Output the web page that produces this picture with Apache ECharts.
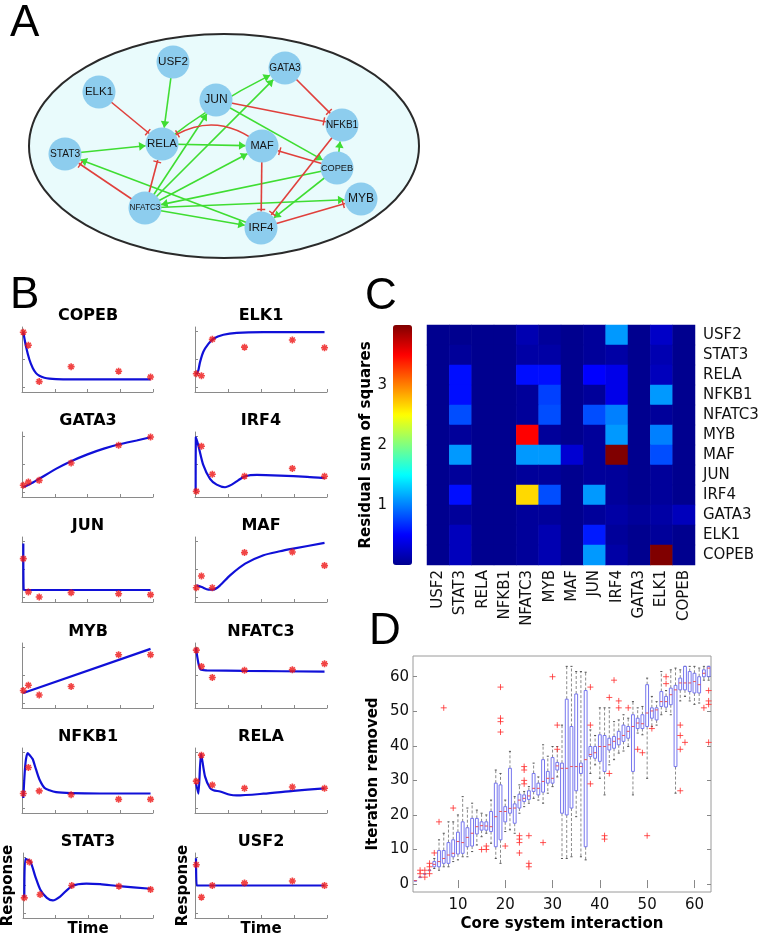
<!DOCTYPE html>
<html><head><meta charset="utf-8">
<script src="https://cdn.jsdelivr.net/npm/echarts@6/dist/echarts.min.js"></script>
<style>html,body{margin:0;padding:0;background:#fff}#c{width:767px;height:940px}</style>
</head><body><div id="c"></div><script>
// ---------- DATA ----------
// Panel A: network
const netNodes = ['USF2','ELK1','JUN','GATA3','RELA','STAT3','MAF','NFKB1','COPEB','MYB','NFATC3','IRF4'];
const netLayout = [[173,62],[99,92],[216,100],[285,68],[162,144],[65,154],[262,146],[342,125],[337,168],[361,199],[145,208],[261,228]];
const activations = [['USF2','RELA'],['STAT3','RELA'],['RELA','MAF'],['IRF4','STAT3'],['NFATC3','IRF4'],['NFATC3','MYB'],['COPEB','NFATC3'],['NFATC3','MAF'],['NFATC3','GATA3'],['NFATC3','JUN'],['RELA','GATA3'],['JUN','COPEB'],['COPEB','NFKB1'],['COPEB','IRF4']];
const inhibitions = [['ELK1','RELA'],['MAF','RELA'],['JUN','NFKB1'],['GATA3','NFKB1'],['COPEB','MAF'],['MAF','IRF4'],['NFKB1','IRF4'],['IRF4','MYB'],['NFATC3','STAT3'],['NFATC3','RELA']];

// Panel B: time courses (fit curves [time, response] and observed responses at sample times)
const sampleTimes = [0.16, 0.78, 2.1, 6, 11.8, 15.7];
const fitCOPEB = [[0.16,0.92],[0.49,0.70],[0.9,0.50],[1.31,0.37],[1.71,0.29],[2.12,0.25],[2.73,0.22],[3.35,0.205],[4.16,0.198],[6,0.195],[15.7,0.195]];
const obsCOPEB = [0.92,0.72,0.16,0.39,0.32,0.23];
const fitELK1 = [[0.2,0.27],[0.4,0.33],[0.61,0.46],[1.01,0.62],[1.62,0.74],[2.23,0.82],[3.44,0.88],[5.06,0.91],[8.3,0.92],[15.7,0.92]];
const obsELK1 = [0.28,0.25,0.81,0.69,0.80,0.68];
const fitGATA3 = [[0.16,0.154],[1,0.2],[2.1,0.28],[4.2,0.436],[6,0.55],[8,0.656],[10,0.744],[12,0.815],[14,0.87],[15.7,0.92]];
const obsGATA3 = [0.18,0.23,0.256,0.523,0.795,0.923];
const fitIRF4 = [[0.08,0.087],[0.1,0.92],[0.41,0.79],[1.01,0.49],[1.82,0.28],[2.63,0.19],[3.64,0.15],[4.45,0.19],[5.27,0.26],[6.08,0.32],[7.5,0.34],[10.3,0.33],[13.6,0.31],[15.7,0.29]];
const obsIRF4 = [0.087,0.78,0.35,0.32,0.44,0.32];
const fitJUN = [[0.16,0.9],[0.2,0.19],[0.4,0.185],[8,0.185],[15.7,0.185]];
const obsJUN = [0.667,0.154,0.077,0.144,0.128,0.113];
const fitMAF = [[0.2,0.256],[0.81,0.23],[1.62,0.19],[2.23,0.19],[3.04,0.256],[4.25,0.41],[6.08,0.59],[8.3,0.72],[10.3,0.78],[11.9,0.82],[15.7,0.91]];
const obsMAF = [0.22,0.40,0.22,0.76,0.77,0.56];
const fitMYB = [[0.16,0.23],[15.7,0.91]];
const obsMYB = [0.27,0.35,0.2,0.33,0.82,0.82];
const fitNFATC3 = [[0.12,0.92],[0.41,0.69],[0.69,0.59],[1.42,0.58],[6.08,0.57],[15.7,0.56]];
const obsNFATC3 = [0.89,0.64,0.47,0.58,0.59,0.68];
const fitNFKB1 = [[0.16,0.23],[0.41,0.75],[0.69,0.92],[1.0,0.88],[1.3,0.83],[1.71,0.67],[2.12,0.52],[2.73,0.39],[3.35,0.35],[4.16,0.32],[6,0.306],[9.5,0.30],[15.7,0.30]];
const obsNFKB1 = [0.30,0.70,0.34,0.28,0.21,0.21];
const fitRELA = [[0.12,0.46],[0.41,0.297],[0.73,0.91],[1.22,0.56],[1.82,0.385],[2.23,0.35],[3.04,0.33],[4.25,0.28],[5.06,0.27],[8.3,0.297],[11.9,0.34],[15.7,0.38]];
const obsRELA = [0.49,0.89,0.43,0.38,0.40,0.38];
const fitSTAT3 = [[0.16,0.31],[0.28,0.91],[0.9,0.87],[1.51,0.64],[2.12,0.44],[2.94,0.31],[3.67,0.27],[4.57,0.33],[6,0.49],[7.8,0.53],[9.5,0.52],[11.8,0.49],[15.7,0.45]];
const obsSTAT3 = [0.31,0.86,0.36,0.50,0.49,0.44];
const fitUSF2 = [[0.12,0.92],[0.2,0.50],[0.4,0.50],[8,0.50],[15.7,0.50]];
const obsUSF2 = [0.82,0.32,0.50,0.54,0.57,0.50];
const panelNames = ['COPEB','ELK1','GATA3','IRF4','JUN','MAF','MYB','NFATC3','NFKB1','RELA','STAT3','USF2'];
const panelFits = [fitCOPEB,fitELK1,fitGATA3,fitIRF4,fitJUN,fitMAF,fitMYB,fitNFATC3,fitNFKB1,fitRELA,fitSTAT3,fitUSF2];
const panelObs = [obsCOPEB,obsELK1,obsGATA3,obsIRF4,obsJUN,obsMAF,obsMYB,obsNFATC3,obsNFKB1,obsRELA,obsSTAT3,obsUSF2];

// Panel C: residual sum of squares (rows top->bottom, columns left->right)
const genes = ['USF2','STAT3','RELA','NFKB1','NFATC3','MYB','MAF','JUN','IRF4','GATA3','ELK1','COPEB'];
const rssMatrix = [
  [0,0,0,0,0.15,0.05,0,0.05,1.1,0,0.25,0],
  [0,0.05,0,0,0.1,0.1,0,0.05,0.1,0,0.15,0],
  [0,0.55,0,0,0.55,0.55,0,0.5,0.4,0,0.2,0],
  [0,0.55,0,0,0.05,0.75,0,0.05,0.4,0,1.1,0],
  [0,0.8,0,0,0.05,0.8,0,0.8,1.0,0,0.05,0],
  [0,0.05,0,0,3.5,0.05,0,0.05,1.1,0,1.0,0],
  [0,1.1,0,0,1.1,1.1,0.3,0.05,4.0,0,0.8,0],
  [0,0.05,0,0,0.05,0.05,0,0.05,0.05,0,0.05,0],
  [0,0.55,0,0,2.65,0.8,0,1.1,0.05,0,0.05,0],
  [0,0.05,0,0,0.05,0.05,0,0.05,0.1,0.05,0.1,0.2],
  [0,0.2,0,0,0.05,0.15,0,0.6,0.05,0,0.05,0],
  [0,0.2,0,0,0.05,0.15,0,1.1,0.1,0,4.0,0]
];
const colorbarLabels = [1,2,3];

// Panel D: box statistics per core system interaction 1..63
const boxLow  = [1,2,3,4,4.5,4,5,5,6.5,7,7.9,7.9,9.4,11.3,13.7,14.7,11.8,7.4,6,15.2,15.7,14.7,20.5,22.4,23.4,24.8,24.3,23.4,26.3,28.2,31,7.4,7.4,7.9,19.5,7.9,7,32,34.5,30.6,25.8,34.5,36,37.9,38.5,39.8,25.8,43.7,43.2,30.6,45.6,46,49,50,49,26.3,53,54.3,53,52,52.4,59,59];
const boxQ1   = [1,2,3,4,5,5,6,6,7.9,8.7,8.9,10.8,11,14.5,15.6,15.6,15.2,10.8,12.8,18,20.5,17.6,22,23.9,24.5,26.8,25.8,26.6,29.2,29.2,33,20.5,20,22,27,32,10.8,36.9,36.4,35.5,32.6,38.8,39.3,40.3,41.3,42.2,32.6,45,45,45.6,48,47.5,51.4,51.2,51.9,34,56.2,56.2,55.7,55.3,55.3,60,60];
const boxMed  = [1,2,3,4,5.7,6.5,7.4,8.4,8.9,12.3,12,13.5,14.7,16.6,16.9,16.8,16.6,19.5,21,21,21.9,22,24.3,24.8,25.5,27.7,27.7,29.7,30.6,30.6,34.2,33.5,33.5,34,34,34,36,37.5,38,39.8,39.8,40.3,41.3,42,43,44.2,45.6,46.6,46.4,49.5,50.1,50.4,52.8,52.8,54.8,56.2,58.2,58.2,58.2,58.6,57.7,61,62.5];
const boxQ3   = [1,2,3,4,6.5,9.7,9.7,12,12.8,15,18,16.3,19,19,18,18,21,29.2,28.7,22.4,33.5,23.2,26,25.8,27,32,29.2,36,32.6,36.6,35.2,35,53.5,45.6,55,35,56,39.8,39.8,43.2,43,42.2,42.7,44.2,46,45.6,49,48,49,57.7,51,51,55.7,54.3,56.7,57.5,59.6,63,61.5,61,60,62,63];
const boxHigh = [1,2,3,4,7.4,12.8,14.7,18,18,20,25.3,22,23.4,21.4,20.5,20,24.3,33,32,24.3,38.4,25.3,28.7,26.8,28.2,35,31,40.3,37,39.8,39.8,46,63,63,61.5,61.5,61.3,44.6,43,51,51,51,47,47.5,49,48,52.8,51,51.4,59.6,54.3,52.8,61.5,56,62,62.5,62,63,63,63,62.5,63,63];
const outliers = [[2,3],[2,4],[3,2],[3,4],[4,3],[4,5],[4,6],[5,9],[6,18],[7,51],[9,22],[15,10],[16,11],[16,10],[19,57],[19,48],[19,47],[19,44],[20,11],[23,14],[23,13],[23,12],[23,9],[24,34],[24,33],[24,30],[24,29],[25,14],[25,6],[25,5],[28,12],[30,60],[31,46],[31,39],[38,57],[38,46],[38,29],[41,14],[41,13],[42,54],[42,32],[43,59],[44,53],[44,51],[46,51],[48,39],[49,38],[50,14],[51,45],[54,60],[54,58],[57,46],[57,43],[57,39],[57,27],[58,41],[62,51],[63,56],[63,53],[63,52],[63,41]];
const dXTicks = [10,20,30,40,50,60];
const dYTicks = [0,10,20,30,40,50,60];

// ---------- STYLE ----------
const FONT = 'DejaVu Sans';
const GREEN = '#3fdd32', RED = '#e0403c';
const nodeFont = {USF2:11.7,ELK1:11.5,JUN:12,GATA3:10,RELA:11.5,STAT3:10.2,MAF:11,NFKB1:10,COPEB:9.2,MYB:12,NFATC3:8.2,IRF4:11.5};
const edgeCurve = {'MAF>RELA':-0.4,'RELA>GATA3':0.06};
// symbols drawn in a 10x10 box centred on the contact point; "up" points toward the target node
const BOXPTS = ' M0,0L0.01,0L0.01,0.01Z M10,10L9.99,10L9.99,9.99Z';
const TBAR = 'path://M0,6.6L10,6.6L10,8.4L0,8.4Z' + BOXPTS;
const ARROW = 'path://M5,5L8.3,10L1.7,10Z' + BOXPTS;
const STAR = 'path://M5,0L5,10M0,5L10,5M1.5,1.5L8.5,8.5M8.5,1.5L1.5,8.5';
const PLUS = 'path://M5,0L5,10M0,5L10,5';
const jet = ['#00008f','#0000ff','#0080ff','#00ffff','#80ff80','#ffff00','#ff8000','#ff0000','#800000'];
const cols = [{left:22,width:131,center:88},{left:195,width:132,center:261}];
const rowTops = [327,432,537,643,748,853];
const subH = 65;
const AX = '#8a8a8a';

const grid = [], xAxis = [], yAxis = [], series = [], graphic = [];

// Panel A grid (identity layout space)
grid.push({left:0,top:0,width:767,height:940});
xAxis.push({type:'value',gridIndex:0,min:0,max:767,show:false});
yAxis.push({type:'value',gridIndex:0,min:0,max:940,inverse:true,show:false});
graphic.push({type:'ellipse',shape:{cx:224,cy:146,rx:195,ry:112},style:{fill:'#e9fbfc',stroke:'#2a2a2a',lineWidth:2},z:0});
const links = [];
activations.forEach(([s,t])=>links.push({source:s,target:t,symbol:['none',ARROW],symbolSize:[1,13],
  lineStyle:{color:GREEN,curveness:edgeCurve[s+'>'+t]||0}}));
inhibitions.forEach(([s,t])=>links.push({source:s,target:t,symbol:['none',TBAR],symbolSize:[1,8],
  lineStyle:{color:RED,curveness:edgeCurve[s+'>'+t]||0}}));
series.push({type:'graph',coordinateSystem:'cartesian2d',xAxisIndex:0,yAxisIndex:0,layout:'none',
  symbolSize:33,z:5,silent:true,
  itemStyle:{color:'#8dcdee'},
  label:{show:true,position:'inside',color:'#151515',fontFamily:'Liberation Sans'},
  lineStyle:{width:1.6,opacity:1},
  data:netNodes.map((n,i)=>({name:n,value:netLayout[i],label:{fontSize:nodeFont[n]}})),
  links:links});

// Panel B
panelNames.forEach((name,i)=>{
  const r = Math.floor(i/2), c = i%2, gi = grid.length;
  const bottomRow = r === rowTops.length-1;
  grid.push({left:cols[c].left,top:rowTops[r],width:cols[c].width,height:subH});
  xAxis.push({type:'value',gridIndex:gi,min:0,max:16,interval:4,
    axisLine:{lineStyle:{color:AX}},axisTick:{inside:true,length:3,lineStyle:{color:AX}},
    axisLabel:{show:false},splitLine:{show:false},
    name:bottomRow?'Time':'',nameLocation:'middle',nameGap:4,
    nameTextStyle:{fontFamily:FONT,fontWeight:'bold',fontSize:15,color:'#000'}});
  yAxis.push({type:'value',gridIndex:gi,min:0,max:1,
    axisLine:{show:true,lineStyle:{color:AX}},
    axisTick:{show:true,inside:true,length:3,lineStyle:{color:AX},customValues:[0.07,0.5,0.93]},
    axisLabel:{show:false},splitLine:{show:false},
    name:bottomRow?'Response':'',nameLocation:'middle',nameGap:c===0?7:4,nameRotate:90,
    nameTextStyle:{fontFamily:FONT,fontWeight:'bold',fontSize:15,color:'#000'}});
  series.push({type:'line',xAxisIndex:gi,yAxisIndex:gi,data:panelFits[i],smooth:0.25,showSymbol:false,
    lineStyle:{color:'#1010d8',width:2.2},silent:true,z:3});
  series.push({type:'scatter',xAxisIndex:gi,yAxisIndex:gi,data:panelObs[i].map((v,j)=>[sampleTimes[j],v]),
    symbol:STAR,symbolSize:7,itemStyle:{color:'#ee1515',borderColor:'#ee1515',borderWidth:1.6},silent:true,z:4});
  graphic.push({type:'text',style:{text:name,x:cols[c].center,y:rowTops[r]-11,font:'bold 16px "DejaVu Sans"',
    textAlign:'center',textVerticalAlign:'middle',verticalAlign:'middle',fill:'#000'}});
});

// Panel C heatmap
const hg = grid.length;
grid.push({left:427,top:325,width:268,height:240});
xAxis.push({type:'category',gridIndex:hg,data:genes,axisLine:{show:false},axisTick:{show:false},
  axisLabel:{rotate:90,fontFamily:FONT,fontSize:15,color:'#111',margin:5},splitLine:{show:false}});
yAxis.push({type:'category',gridIndex:hg,data:genes,inverse:true,position:'right',axisLine:{show:false},axisTick:{show:false},
  axisLabel:{fontFamily:FONT,fontSize:15,color:'#111',margin:8},splitLine:{show:false}});
const heatData = [];
rssMatrix.forEach((row,ri)=>row.forEach((v,ci)=>heatData.push([ci,ri,v])));
const heatSeriesIndex = series.length;
series.push({type:'heatmap',xAxisIndex:hg,yAxisIndex:hg,data:heatData,silent:true,itemStyle:{borderWidth:0}});
// colorbar axis
const cg = grid.length;
grid.push({left:393,top:325,width:19,height:240});
xAxis.push({type:'value',gridIndex:cg,show:false,min:0,max:1});
yAxis.push({type:'value',gridIndex:cg,min:0,max:4,
  axisLine:{show:false},
  axisTick:{show:true,inside:true,length:3,lineStyle:{color:'#333'},customValues:[0.5,1,1.5,2,2.5,3,3.5]},
  axisLabel:{customValues:colorbarLabels,fontFamily:FONT,fontSize:15,color:'#111',margin:6},splitLine:{show:false},
  name:'Residual sum of squares',nameLocation:'middle',nameGap:14,nameRotate:90,
  nameTextStyle:{fontFamily:FONT,fontWeight:'bold',fontSize:15,color:'#000'}});

// Panel D boxplot
const dg = grid.length;
grid.push({left:413,top:656,width:298,height:236,show:true,borderColor:'#9a9a9a',borderWidth:1,backgroundColor:'transparent'});
xAxis.push({type:'value',gridIndex:dg,min:0.5,max:63.5,axisLine:{show:false},
  axisTick:{show:true,inside:true,length:4,lineStyle:{color:'#888'},customValues:dXTicks},
  axisLabel:{customValues:dXTicks,fontFamily:FONT,fontSize:15,color:'#111',margin:6},splitLine:{show:false},
  name:'Core system interaction',nameLocation:'middle',nameGap:25,
  nameTextStyle:{fontFamily:FONT,fontWeight:'bold',fontSize:15,color:'#000'}});
yAxis.push({type:'value',gridIndex:dg,min:-2.3,max:66,axisLine:{show:false},
  axisTick:{show:true,inside:true,length:4,lineStyle:{color:'#888'},customValues:dYTicks},
  axisLabel:{customValues:dYTicks,fontFamily:FONT,fontSize:15,color:'#111',margin:4},splitLine:{show:false},
  name:'Iteration removed',nameLocation:'middle',nameGap:32,nameRotate:90,
  nameTextStyle:{fontFamily:FONT,fontWeight:'bold',fontSize:15,color:'#000'}});
xAxis.push({type:'value',gridIndex:dg,position:'top',min:0.5,max:63.5,axisLine:{show:false},
  axisTick:{show:true,inside:true,length:4,lineStyle:{color:'#888'},customValues:dXTicks},
  axisLabel:{show:false},splitLine:{show:false}});
yAxis.push({type:'value',gridIndex:dg,position:'right',min:-2.3,max:66,axisLine:{show:false},
  axisTick:{show:true,inside:true,length:4,lineStyle:{color:'#888'},customValues:dYTicks},
  axisLabel:{show:false},splitLine:{show:false}});
series.push({type:'custom',xAxisIndex:dg,yAxisIndex:dg,silent:true,z:3,
  data:boxMed.map((m,i)=>[i+1,boxLow[i],boxQ1[i],m,boxQ3[i],boxHigh[i]]),
  encode:{x:0,y:[1,5]},
  renderItem:function(params,api){
    const k=api.value(0);
    const bw=api.size([1,0])[0];
    const half=bw*0.3, cap=bw*0.22;
    const pLo=api.coord([k,api.value(1)]), pQ1=api.coord([k,api.value(2)]), pMd=api.coord([k,api.value(3)]),
          pQ3=api.coord([k,api.value(4)]), pHi=api.coord([k,api.value(5)]);
    const x=pMd[0];
    const dash={stroke:'#8a8a8a',lineWidth:1,lineDash:[3,2]};
    return {type:'group',children:[
      {type:'line',shape:{x1:x,y1:pQ3[1],x2:x,y2:pHi[1]},style:dash},
      {type:'line',shape:{x1:x,y1:pQ1[1],x2:x,y2:pLo[1]},style:dash},
      {type:'line',shape:{x1:x-cap,y1:pHi[1],x2:x+cap,y2:pHi[1]},style:{stroke:'#555',lineWidth:1}},
      {type:'line',shape:{x1:x-cap,y1:pLo[1],x2:x+cap,y2:pLo[1]},style:{stroke:'#555',lineWidth:1}},
      {type:'rect',shape:{x:x-half,y:pQ3[1],width:2*half,height:Math.max(pQ1[1]-pQ3[1],0.5)},style:{fill:'none',stroke:'#7676ee',lineWidth:1}},
      {type:'line',shape:{x1:x-half,y1:pMd[1],x2:x+half,y2:pMd[1]},style:{stroke:'#e8505a',lineWidth:1}}
    ]};
  }});
series.push({type:'scatter',xAxisIndex:dg,yAxisIndex:dg,data:outliers,symbol:PLUS,symbolSize:6,silent:true,z:4,
  itemStyle:{color:'#ff2a2a',borderColor:'#ff2a2a',borderWidth:1}});

// Panel letters
[['A',10,2],['B',10,274],['C',365,275],['D',369,610]].forEach(([t,x,y])=>graphic.push({type:'text',
  style:{text:t,x:x,y:y,font:'44px "Liberation Sans"',textVerticalAlign:'top',verticalAlign:'top',fill:'#000'}}));

const chart = echarts.init(document.getElementById('c'),null,{renderer:'canvas'});
chart.setOption({
  animation:false,
  backgroundColor:'#fff',
  grid, xAxis, yAxis, series, graphic,
  visualMap:{type:'continuous',min:0,max:4,seriesIndex:heatSeriesIndex,show:true,calculable:false,
    left:393,top:325,itemWidth:19,itemHeight:240,padding:0,inRange:{color:jet},hoverLink:false,text:null}
});
</script></body></html>
